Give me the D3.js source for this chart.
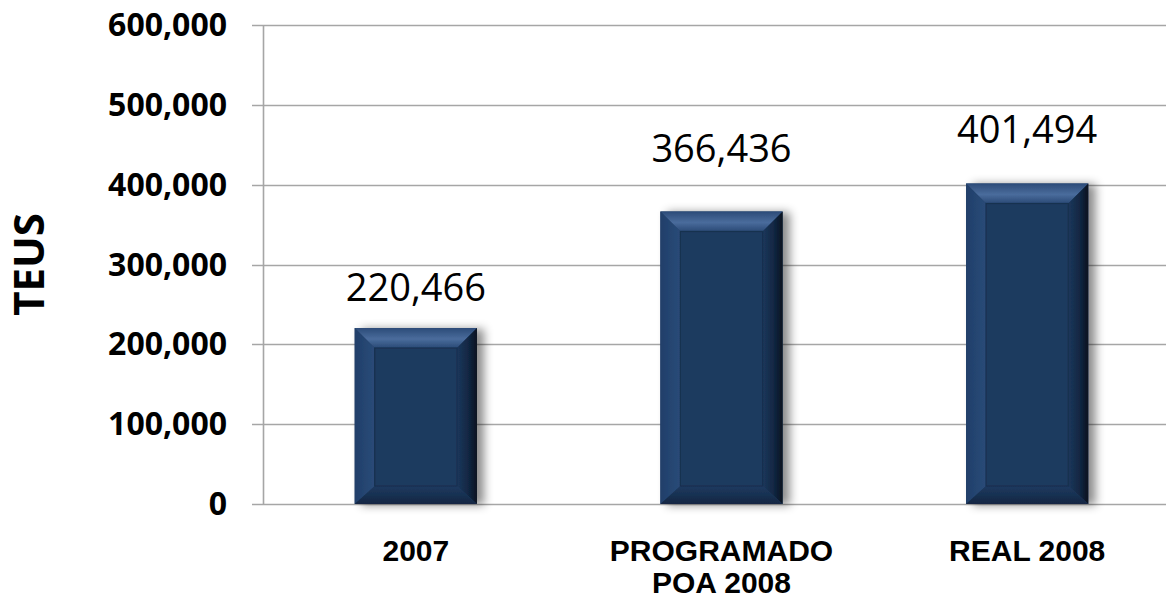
<!DOCTYPE html>
<html>
<head>
<meta charset="utf-8">
<script src="https://cdn.jsdelivr.net/npm/d3@7"></script>
<style>
  html, body { margin: 0; padding: 0; background: #fff; overflow: hidden; }
  svg { display: block; }
</style>
</head>
<body>
<svg id="chart" width="1166" height="601"></svg>
<script>
const categories = [["2007"], ["PROGRAMADO", "POA 2008"], ["REAL 2008"]];
const values = [220466, 366436, 401494];
const yTicks = [0, 100000, 200000, 300000, 400000, 500000, 600000];
const axisTitle = "TEUS";

const svg = d3.select("#chart");
const fmt = d3.format(",");

// label lift above bar top, per bar (as placed in the original slide)
const labelLift = [27, 49, 40];

const x = d3.scaleBand()
  .domain(d3.range(values.length))
  .range([263, 1180])
  .paddingInner(0.6)
  .paddingOuter(0.3);

const y = d3.scaleLinear().domain([0, 600000]).range([504, 25]);

const defs = svg.append("defs");

const shadow = defs.append("filter").attr("id", "shadow")
  .attr("x", "-20%").attr("y", "-10%").attr("width", "150%").attr("height", "130%");
shadow.append("feDropShadow")
  .attr("dx", 7).attr("dy", 1).attr("stdDeviation", 5)
  .attr("flood-color", "#000").attr("flood-opacity", 0.45);

function grad(id, x2, y2, stops) {
  const g = defs.append("linearGradient").attr("id", id)
    .attr("x1", 0).attr("y1", 0).attr("x2", x2).attr("y2", y2);
  stops.forEach(([o, c]) => g.append("stop").attr("offset", o).attr("stop-color", c));
}
grad("gTop", 0, 1, [[0, "#2c4b78"], [0.55, "#4a6c9c"], [1, "#2a4a76"]]);
grad("gLeft", 1, 0, [[0, "#203f6a"], [1, "#2a4b78"]]);
grad("gRight", 1, 0, [[0, "#1c375c"], [0.6, "#112641"], [1, "#08121f"]]);
grad("gBottom", 0, 1, [[0, "#1e3a60"], [1, "#122743"]]);

// grid lines + tick marks
svg.append("g")
  .selectAll("line")
  .data(yTicks)
  .join("line")
  .attr("x1", 252)
  .attr("x2", 1180)
  .attr("y1", (d) => Math.round(y(d)) + 0.5)
  .attr("y2", (d) => Math.round(y(d)) + 0.5)
  .attr("stroke", "#a6a6a6")
  .attr("stroke-width", 1.6);

svg.append("line")
  .attr("x1", 263.5).attr("x2", 263.5)
  .attr("y1", y(600000)).attr("y2", y(0))
  .attr("stroke", "#a6a6a6").attr("stroke-width", 1.6);

// y tick labels
svg.append("g")
  .selectAll("text")
  .data(yTicks)
  .join("text")
  .attr("x", 227)
  .attr("y", (d) => y(d) + 11)
  .attr("text-anchor", "end")
  .attr("font-family", "'Open Sans', sans-serif")
  .attr("font-weight", 700)
  .attr("font-size", 32)
  .attr("fill", "#000")
  .text((d) => fmt(d));

svg.append("text")
  .attr("transform", `translate(44,${y(300000)}) rotate(-90)`)
  .attr("text-anchor", "middle")
  .attr("font-family", "'Open Sans', sans-serif")
  .attr("font-weight", 700)
  .attr("font-size", 42)
  .attr("fill", "#000")
  .text(axisTitle);

// bars with bevel
const b = 20;
const bars = svg.append("g")
  .selectAll("g.bar")
  .data(values)
  .join("g")
  .attr("class", "bar")
  .attr("filter", "url(#shadow)");

bars.each(function (v, i) {
  const g = d3.select(this);
  const x0 = x(i), x1 = x(i) + x.bandwidth();
  const y0 = y(v), y1 = y(0);
  const pts = (arr) => arr.map((p) => p.join(",")).join(" ");

  g.append("rect").attr("x", x0).attr("y", y0).attr("width", x1 - x0).attr("height", y1 - y0).attr("fill", "#1f3a60");
  g.append("polygon").attr("points", pts([[x0, y0], [x1, y0], [x1 - b, y0 + b], [x0 + b, y0 + b]])).attr("fill", "url(#gTop)");
  g.append("polygon").attr("points", pts([[x0, y0], [x0 + b, y0 + b], [x0 + b, y1 - b + 2], [x0, y1]])).attr("fill", "url(#gLeft)");
  g.append("polygon").attr("points", pts([[x1, y0], [x1, y1], [x1 - b, y1 - b + 2], [x1 - b, y0 + b]])).attr("fill", "url(#gRight)");
  g.append("polygon").attr("points", pts([[x0, y1], [x0 + b, y1 - b + 2], [x1 - b, y1 - b + 2], [x1, y1]])).attr("fill", "url(#gBottom)");
  g.append("rect")
    .attr("x", x0 + b).attr("y", y0 + b)
    .attr("width", x1 - x0 - 2 * b).attr("height", Math.max(0, y1 - y0 - 2 * b + 2))
    .attr("fill", "#1f3a5f")
    .attr("stroke", "#18304f").attr("stroke-width", 1.2);
});

// value labels
svg.append("g")
  .selectAll("text")
  .data(values)
  .join("text")
  .attr("x", (d, i) => x(i) + x.bandwidth() / 2)
  .attr("y", (d, i) => y(d) - labelLift[i])
  .attr("text-anchor", "middle")
  .attr("font-family", "'Open Sans', sans-serif")
  .attr("font-size", 38)
  .attr("fill", "#000")
  .text((d) => fmt(d));

// category labels
const cat = svg.append("g")
  .selectAll("text")
  .data(categories)
  .join("text")
  .attr("x", (d, i) => x(i) + x.bandwidth() / 2)
  .attr("y", 561)
  .attr("text-anchor", "middle")
  .attr("font-family", "'Liberation Sans', Arial, sans-serif")
  .attr("font-weight", 700)
  .attr("font-size", 30)
  .attr("fill", "#000");

cat.selectAll("tspan")
  .data((d) => d)
  .join("tspan")
  .attr("x", function () { return d3.select(this.parentNode).attr("x"); })
  .attr("dy", (d, j) => (j === 0 ? 0 : 32))
  .text((d) => d);
</script>
</body>
</html>
